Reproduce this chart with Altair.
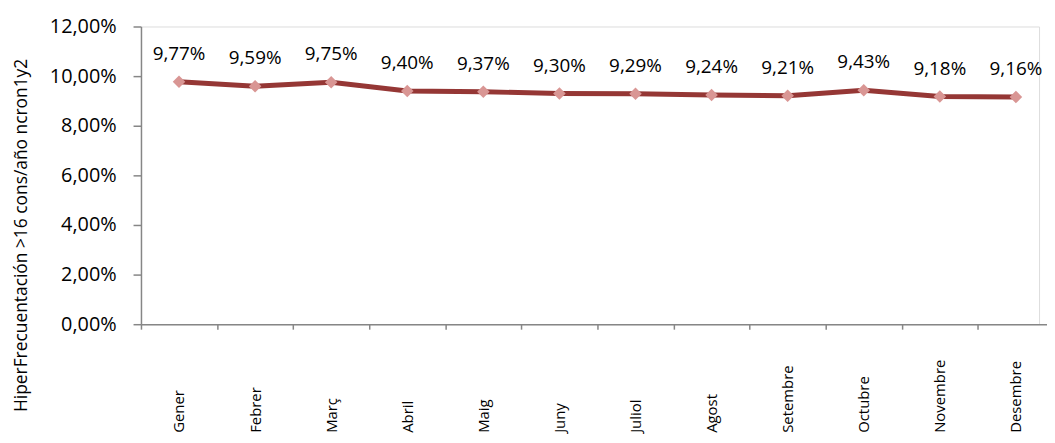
import altair as alt
import pandas as pd

months = ["Gener", "Febrer", "Març", "Abril", "Maig", "Juny", "Juliol",
          "Agost", "Setembre", "Octubre", "Novembre", "Desembre"]
values = [0.0977, 0.0959, 0.0975, 0.0940, 0.0937, 0.0930, 0.0929,
          0.0924, 0.0921, 0.0943, 0.0918, 0.0916]
y_ticks = [0, 0.02, 0.04, 0.06, 0.08, 0.10, 0.12]

df = pd.DataFrame({"mes": months, "valor": values})

FONT = "Open Sans"
AXIS_COLOR = "#868686"

x_enc = alt.X(
    "mes:N", sort=months,
    scale=alt.Scale(range=[0, 920], paddingInner=0, paddingOuter=0),
    axis=alt.Axis(
        title=None, labelAngle=-90, labelAlign="left", labelBaseline="middle",
        labelPadding=104, labelFont=FONT, labelFontSize=15, labelColor="#000000",
        domainColor=AXIS_COLOR, domainWidth=1.5, tickColor=AXIS_COLOR,
        tickWidth=1.5, tickSize=5, tickBand="extent", grid=False,
    ),
)
y_enc = alt.Y(
    "valor:Q",
    scale=alt.Scale(domain=[0, 0.12], nice=False, zero=True),
    axis=alt.Axis(
        values=y_ticks, labelExpr="replace(format(datum.value, '.2%'), '.', ',')",
        title="HiperFrecuentación >16 cons/año ncron1y2",
        titleFont=FONT, titleFontSize=17.5, titleFontWeight="normal", titleColor="#000000",
        titleAngle=-90, titleX=-120, titleY=210, titleAlign="center", titleBaseline="middle",
        labelFont=FONT, labelFontSize=20, labelColor="#000000", labelPadding=17,
        domainColor=AXIS_COLOR, domainWidth=1.5, tickColor=AXIS_COLOR,
        tickWidth=1.5, tickSize=8, grid=False,
    ),
)

base = alt.Chart(df).encode(x=x_enc, y=y_enc)

line = base.mark_line(color="#953735", strokeWidth=5)
points = base.mark_point(shape="diamond", filled=True, color="#D99694",
                         size=160, opacity=1)
labels = base.transform_calculate(
    etiqueta="replace(format(datum.valor, '.2%'), '.', ',')"
).mark_text(font=FONT, fontSize=19, color="#000000", dy=-28).encode(
    text="etiqueta:N"
)

chart = (line + points + labels).properties(
    width=905, height=300,
    autosize=alt.AutoSizeParams(type="none"),
    padding={"left": 134, "top": 17, "right": 8, "bottom": 110},
).configure_view(stroke=None).configure(background="#ffffff")

chart.save("out.html", embed_options={"renderer": "svg", "actions": False})
